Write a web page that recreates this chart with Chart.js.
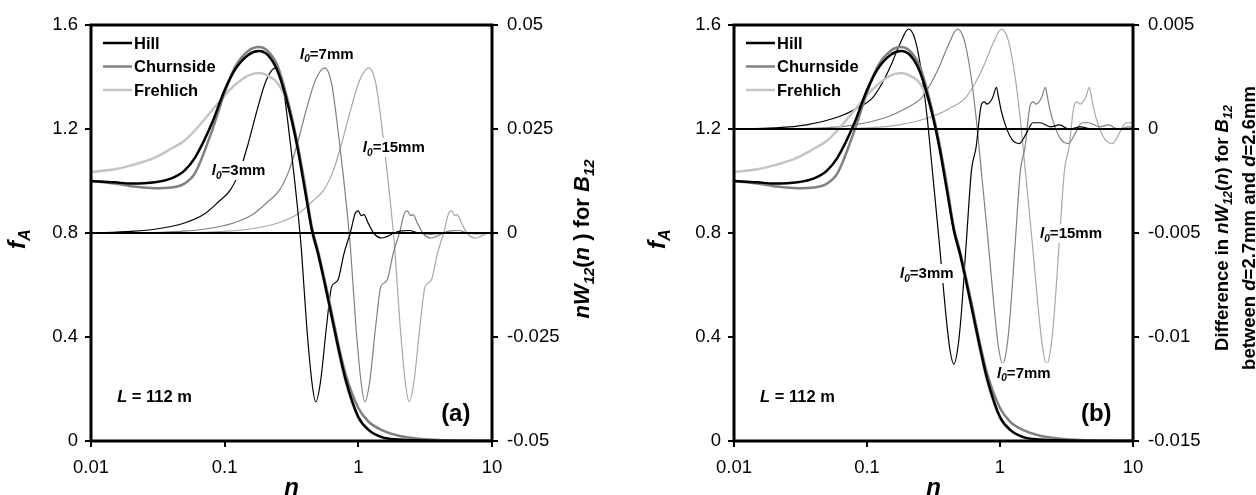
<!DOCTYPE html>
<html>
<head>
<meta charset="utf-8">
<script src="https://cdn.jsdelivr.net/npm/chart.js@4/dist/chart.umd.min.js"></script>
<style>
body { margin: 0; background: #fff; }
#wrap { position: relative; width: 1256px; height: 495px; }
canvas { position: absolute; top: 0; }
</style>
</head>
<body>
<div id="wrap">
<canvas id="chartA" width="628" height="495" style="left:0"></canvas>
<canvas id="chartB" width="628" height="495" style="left:628px"></canvas>
</div>
<script>
const FONT = '"Liberation Sans", Arial, sans-serif';

// axis ticks
const xTicks = [0.01, 0.1, 1, 10];
const leftTicks = [0, 0.4, 0.8, 1.2, 1.6];
const rightTicksA = [-0.05, -0.025, 0, 0.025, 0.05];
const rightTicksB = [-0.015, -0.01, -0.005, 0, 0.005];

// f_A curves (left axis), same in both panels
const nGrid = [0.01, 0.015, 0.02, 0.03, 0.04, 0.05, 0.06, 0.08, 0.1, 0.12, 0.15, 0.18, 0.21, 0.25, 0.3, 0.35, 0.4, 0.45, 0.5, 0.6, 0.7, 0.8, 1, 1.2, 1.5, 2, 3, 5, 10];
const hill = [1.0, 0.995, 0.99, 0.995, 1.01, 1.04, 1.09, 1.22, 1.35, 1.43, 1.485, 1.5, 1.485, 1.42, 1.285, 1.13, 0.96, 0.81, 0.72, 0.535, 0.37, 0.24, 0.092, 0.042, 0.015, 0.006, 0.002, 0, 0];
const churnside = [1.0, 0.99, 0.98, 0.972, 0.975, 0.99, 1.03, 1.19, 1.34, 1.44, 1.5, 1.515, 1.5, 1.44, 1.3, 1.145, 0.98, 0.82, 0.73, 0.55, 0.385, 0.26, 0.127, 0.073, 0.042, 0.02, 0.008, 0.002, 0];
const frehlich = [1.035, 1.045, 1.06, 1.09, 1.125, 1.155, 1.195, 1.27, 1.33, 1.37, 1.405, 1.415, 1.405, 1.375, 1.29, 1.14, 0.97, 0.81, 0.715, 0.53, 0.36, 0.23, 0.088, 0.04, 0.014, 0.005, 0.001, 0, 0];

// panel (a): nW12(n), one shape for l0 = 3, 7, 15 mm
const nA3 = [0.01, 0.02, 0.03, 0.05, 0.07, 0.09, 0.11, 0.13, 0.15, 0.175, 0.205, 0.24, 0.27, 0.31, 0.35, 0.375, 0.41, 0.45, 0.48, 0.52, 0.58, 0.63, 0.67, 0.71, 0.78, 0.87, 0.95, 1.0, 1.05, 1.1, 1.18, 1.3, 1.5, 1.65, 1.85, 2.1, 2.4, 2.8, 3.5, 5, 10];
const nA7 = [0.0233, 0.0467, 0.07, 0.1167, 0.163, 0.21, 0.257, 0.303, 0.35, 0.408, 0.478, 0.56, 0.63, 0.723, 0.817, 0.875, 0.957, 1.05, 1.12, 1.213, 1.353, 1.47, 1.563, 1.657, 1.82, 2.03, 2.217, 2.333, 2.45, 2.567, 2.753, 3.033, 3.5, 3.85, 4.317, 4.9, 5.6, 6.533, 8.167, 11.67, 23.33];
const nA15 = [0.05, 0.1, 0.15, 0.25, 0.35, 0.45, 0.55, 0.65, 0.75, 0.875, 1.025, 1.2, 1.35, 1.55, 1.75, 1.875, 2.05, 2.25, 2.4, 2.6, 2.9, 3.15, 3.35, 3.55, 3.9, 4.35, 4.75, 5, 5.25, 5.5, 5.9, 6.5, 7.5, 8.25, 9.25, 10.5, 12, 14, 17.5, 25, 50];
const wA = [0, 0.0004, 0.0009, 0.0024, 0.0045, 0.0075, 0.0103, 0.015, 0.0215, 0.0296, 0.0368, 0.0397, 0.036, 0.0216, 0.0063, -0.004, -0.022, -0.036, -0.0406, -0.036, -0.022, -0.013, -0.012, -0.011, -0.005, 0, 0.0048, 0.0053, 0.0042, 0.0044, 0.0025, 0, -0.0012, -0.0008, 0, 0.0005, 0.0006, 0, -0.0002, 0, 0];

// panel (b): difference in nW12(n)
const nB3 = [0.01, 0.02, 0.035, 0.062, 0.084, 0.11, 0.13, 0.15, 0.177, 0.205, 0.23, 0.26, 0.285, 0.31, 0.35, 0.39, 0.42, 0.45, 0.48, 0.51, 0.56, 0.61, 0.66, 0.72, 0.76, 0.8, 0.88, 0.94, 0.97, 1.02, 1.11, 1.23, 1.4, 1.58, 1.77, 2.0, 2.4, 2.8, 3.3, 4, 5, 10];
const nB7 = [0.0233, 0.0467, 0.0817, 0.145, 0.196, 0.257, 0.303, 0.35, 0.413, 0.478, 0.537, 0.607, 0.665, 0.723, 0.817, 0.91, 0.98, 1.05, 1.12, 1.19, 1.307, 1.423, 1.54, 1.68, 1.773, 1.867, 2.053, 2.193, 2.263, 2.38, 2.59, 2.87, 3.267, 3.687, 4.13, 4.667, 5.6, 6.533, 7.7, 9.333, 11.67, 23.33];
const nB15 = [0.05, 0.1, 0.175, 0.31, 0.42, 0.55, 0.65, 0.75, 0.885, 1.025, 1.15, 1.3, 1.425, 1.55, 1.75, 1.95, 2.1, 2.25, 2.4, 2.55, 2.8, 3.05, 3.3, 3.6, 3.8, 4, 4.4, 4.7, 4.85, 5.1, 5.55, 6.15, 7, 7.9, 8.85, 10, 12, 14, 16.5, 20, 25, 50];
const wB = [0, 0.00005, 0.0002, 0.0006, 0.001, 0.0015, 0.0022, 0.003, 0.0041, 0.0048, 0.0043, 0.0025, 0.0004, -0.002, -0.0055, -0.0088, -0.0106, -0.0113, -0.0106, -0.009, -0.0053, -0.002, -0.0009, 0.0011, 0.0013, 0.0012, 0.0015, 0.002, 0.0016, 0.0009, 0.0001, -0.0005, -0.0007, -0.0002, 0.0003, 0.0003, 0.0001, 0.0002, 0, 0.0001, 0, 0];

const legendNames = ['Hill', 'Churnside', 'Frehlich'];
const thickColors = ['#000000', '#808080', '#c4c4c4'];
const thinColors = ['#000000', '#808080', '#a8a8a8'];

function styleFont(st, size) {
	const sub = st.indexOf('s') >= 0;
	return (st.indexOf('i') >= 0 ? 'italic ' : '') + (st.indexOf('b') >= 0 ? 'bold ' : '') + (sub ? size * 0.68 : size) + 'px ' + FONT;
}

function richWidth(ctx, parts, size) {
	let w = 0;
	parts.forEach(([t, st]) => {
		ctx.font = styleFont(st, size);
		w += ctx.measureText(t).width;
	});
	return w;
}

function drawRich(ctx, parts, x, y, size, align) {
	const w = richWidth(ctx, parts, size);
	let cx = align === 'center' ? x - w / 2 : align === 'right' ? x - w : x;
	const base = y + size * 0.36;
	ctx.textAlign = 'left';
	ctx.textBaseline = 'alphabetic';
	parts.forEach(([t, st]) => {
		ctx.font = styleFont(st, size);
		ctx.fillText(t, cx, base + (st.indexOf('s') >= 0 ? size * 0.22 : 0));
		cx += ctx.measureText(t).width;
	});
	return w;
}

function points(xs, ys) {
	return xs.map((x, i) => ({ x: x, y: ys[i] }));
}

const panelPlugin = {
	id: 'panel',
	afterDatasetsDraw(chart, args, o) {
		const ctx = chart.ctx;
		const a = chart.chartArea;
		const sx = chart.scales.x;
		const sy = chart.scales.y;
		ctx.save();
		ctx.fillStyle = '#000';

		o.labels.forEach((lb) => {
			const px = sx.getPixelForValue(lb.n);
			const py = sy.getPixelForValue(lb.f);
			const w = richWidth(ctx, lb.parts, 15);
			ctx.fillStyle = '#fff';
			ctx.fillRect(px - 2, py - 9, w + 4, 19);
			ctx.fillStyle = '#000';
			drawRich(ctx, lb.parts, px, py, 15, 'left');
		});

		legendNames.forEach((name, i) => {
			const y = a.top + 18 + i * 23.5;
			ctx.strokeStyle = thickColors[i];
			ctx.lineWidth = 2.5;
			ctx.beginPath();
			ctx.moveTo(a.left + 12, y);
			ctx.lineTo(a.left + 41, y);
			ctx.stroke();
			ctx.fillStyle = '#000';
			drawRich(ctx, [[name, 'b']], a.left + 43, y, 16.5, 'left');
		});

		drawRich(ctx, [['L', 'bi'], [' = 112 m', 'b']], sx.getPixelForValue(0.0157), sy.getPixelForValue(0.173), 16.5, 'left');
		drawRich(ctx, [[o.letter, 'b']], sx.getPixelForValue(6.9), sy.getPixelForValue(0.112), 24, 'right');

		ctx.strokeStyle = '#000';
		ctx.lineWidth = 3;
		ctx.strokeRect(a.left, a.top, a.right - a.left, a.bottom - a.top);
		ctx.restore();
	},
	afterDraw(chart, args, o) {
		const ctx = chart.ctx;
		const a = chart.chartArea;
		ctx.save();
		ctx.fillStyle = '#000';

		ctx.save();
		ctx.translate(a.left + o.leftTitleDx, (a.top + a.bottom) / 2 + 6);
		ctx.rotate(-Math.PI / 2);
		drawRich(ctx, [['f', 'bi'], ['A', 'bis']], 0, 0, 24, 'center');
		ctx.restore();

		ctx.font = 'italic bold 24px ' + FONT;
		ctx.textAlign = 'center';
		ctx.textBaseline = 'alphabetic';
		ctx.fillText('n', (a.left + a.right) / 2, 495);

		o.rightTitle.forEach((line, i) => {
			ctx.save();
			ctx.translate(a.right + o.rightTitleDx[i], o.rightTitleY);
			ctx.rotate(-Math.PI / 2);
			drawRich(ctx, line, 0, 0, o.rightTitleSize, 'center');
			ctx.restore();
		});
		ctx.restore();
	}
};

function makeChart(id, p) {
	const tickFont = { family: FONT, size: 18.5 };
	const grid = { drawOnChartArea: false, drawTicks: true, tickLength: 6, color: '#000', lineWidth: 2 };
	const thin = (xs, color) => ({
		data: points(xs, p.w), yAxisID: 'y2', borderColor: color, borderWidth: 1.2,
		pointRadius: 0, cubicInterpolationMode: 'monotone', fill: false
	});
	const thick = (ys, color) => ({
		data: points(nGrid, ys), yAxisID: 'y', borderColor: color, borderWidth: 2.5,
		pointRadius: 0, cubicInterpolationMode: 'monotone', fill: false
	});
	return new Chart(document.getElementById(id), {
		type: 'line',
		data: {
			datasets: [
				{ data: points([xTicks[0], xTicks[3]], [0, 0]), yAxisID: 'y2', borderColor: '#000', borderWidth: 2, pointRadius: 0 },
				thick(hill, thickColors[0]),
				thick(churnside, thickColors[1]),
				thick(frehlich, thickColors[2]),
				thin(p.n3, thinColors[0]),
				thin(p.n7, thinColors[1]),
				thin(p.n15, thinColors[2])
			]
		},
		options: {
			responsive: false,
			animation: false,
			layout: { padding: { top: 25, left: 0, right: 0, bottom: 0 } },
			plugins: {
				legend: { display: false },
				tooltip: { enabled: false },
				panel: p.panel
			},
			scales: {
				x: {
					type: 'logarithmic',
					min: 0.01,
					max: 10,
					afterBuildTicks: (s) => { s.ticks = xTicks.map((v) => ({ value: v, major: true })); },
					afterFit: (s) => { s.height = 54; },
					ticks: { callback: (v) => String(v), font: tickFont, color: '#000', padding: 10, maxRotation: 0, autoSkip: false },
					grid: grid,
					border: { display: false }
				},
				y: {
					position: 'left',
					min: 0,
					max: 1.6,
					afterBuildTicks: (s) => { s.ticks = leftTicks.map((v) => ({ value: v })); },
					afterFit: (s) => { s.width = p.leftW; },
					ticks: { callback: (v) => String(v), font: tickFont, color: '#000', padding: 7 },
					grid: grid,
					border: { display: false }
				},
				y2: {
					position: 'right',
					min: p.rightTicks[0],
					max: p.rightTicks[p.rightTicks.length - 1],
					afterBuildTicks: (s) => { s.ticks = p.rightTicks.map((v) => ({ value: v })); },
					afterFit: (s) => { s.width = p.rightW; },
					ticks: { callback: (v) => String(v), font: tickFont, color: '#000', padding: 9 },
					grid: grid,
					border: { display: false }
				}
			}
		},
		plugins: [panelPlugin]
	});
}

const l0 = (mm) => [['l', 'bi'], ['0', 'bis'], ['=' + mm + 'mm', 'b']];

document.addEventListener('DOMContentLoaded', () => {
	makeChart('chartA', {
		leftW: 91, rightW: 136, rightTicks: rightTicksA,
		n3: nA3, n7: nA7, n15: nA15, w: wA,
		panel: {
			letter: '(a)',
			leftTitleDx: -75,
			labels: [
				{ n: 0.080, f: 1.042, parts: l0(3) },
				{ n: 0.366, f: 1.49, parts: l0(7) },
				{ n: 1.08, f: 1.131, parts: l0(15) }
			],
			rightTitle: [[['n', 'bi'], ['W', 'bi'], ['12', 'bis'], ['(', 'b'], ['n', 'bi'], [' )', 'b'], [' for ', 'b'], ['B', 'bi'], ['12', 'bis']]],
			rightTitleDx: [89],
			rightTitleY: 239,
			rightTitleSize: 22
		}
	});
	makeChart('chartB', {
		leftW: 106, rightW: 123, rightTicks: rightTicksB,
		n3: nB3, n7: nB7, n15: nB15, w: wB,
		panel: {
			letter: '(b)',
			leftTitleDx: -78,
			labels: [
				{ n: 0.177, f: 0.646, parts: l0(3) },
				{ n: 0.95, f: 0.265, parts: l0(7) },
				{ n: 2.0, f: 0.8, parts: l0(15) }
			],
			rightTitle: [
				[['Difference in ', 'b'], ['nW', 'bi'], ['12', 'bis'], ['(', 'b'], ['n', 'bi'], [') for ', 'b'], ['B', 'bi'], ['12', 'bis']],
				[['between ', 'b'], ['d', 'bi'], ['=2.7mm and ', 'b'], ['d', 'bi'], ['=2.6mm', 'b']]
			],
			rightTitleDx: [88, 115],
			rightTitleY: 228,
			rightTitleSize: 18.5
		}
	});
});
</script>
</body>
</html>
